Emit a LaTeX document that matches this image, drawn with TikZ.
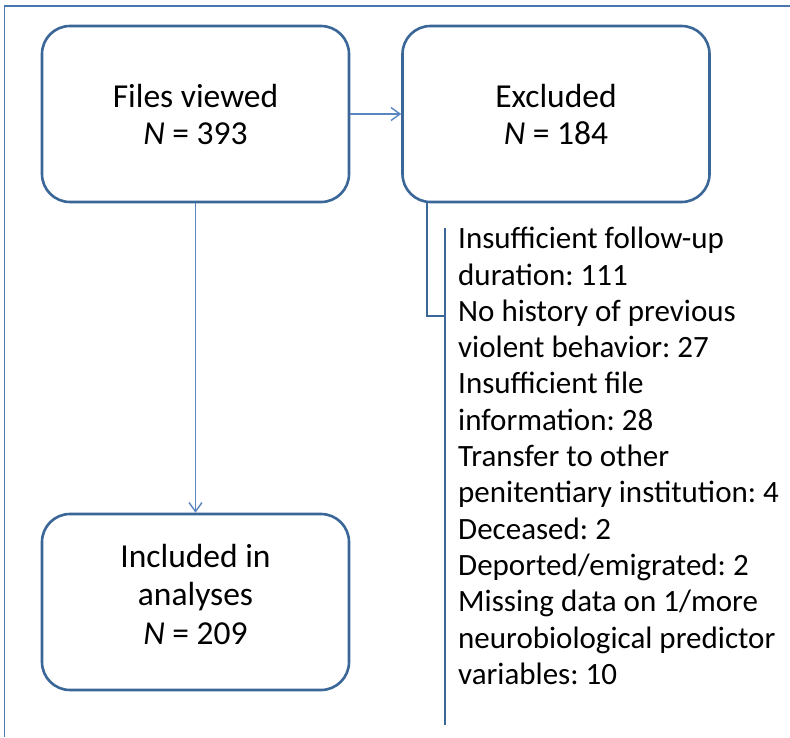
\documentclass[tikz,border=0pt]{standalone}
\usepackage{fontspec}
\setmainfont{Carlito}
\usetikzlibrary{arrows.meta}
\definecolor{boxblue}{HTML}{3A6698}
\definecolor{arrowblue}{HTML}{5A86C0}
\definecolor{frameblue}{HTML}{4A78AE}
\frenchspacing
\begin{document}
\begin{tikzpicture}[x=1pt,y=-1pt,
  flowbox/.style={draw=boxblue, line width=2.6pt, rounded corners=28pt, fill=white,
     minimum width=307pt, minimum height=176pt, align=center, inner sep=0pt,
     font=\fontsize{33.5}{37}\selectfont},
  flowarrow/.style={draw=arrowblue, line width=1.4pt, -{Straight Barb[length=9pt,width=13pt,line width=1.4pt]}},
  bracket/.style={draw=boxblue, line width=2.4pt},
  listtext/.style={align=left, inner sep=0pt, anchor=north west,
     font=\fontsize{31}{36.3}\selectfont}]
\useasboundingbox (0,0) rectangle (790,737);
\fill[white] (0,0) rectangle (790,737);
% outer frame (top and left edges visible)
\draw[frameblue, line width=1.6pt] (790,6) -- (4.5,6) -- (4.5,737);
% boxes
\node[flowbox] (files) at (195.5,114) {Files viewed\\\textit{N} = 393};
\node[flowbox] (excl) at (556,114) {Excluded\\\textit{N} = 184};
\node[flowbox] (incl) at (195.5,602) {};
\node[align=center, inner sep=0pt, font=\fontsize{33.5}{38.5}\selectfont] (incltext) at (195.5,594) {Included in\\analyses\\\textit{N} = 209};
% arrows
\draw[flowarrow] (files.east) -- (excl.west);
\draw[flowarrow] (files.south) -- (incl.north);
% bracket
\coordinate (bt) at (445,228);
\coordinate (bb) at (445,725);
\coordinate (bj) at (445,316);
\coordinate (bx) at (427,316);
\draw[bracket] (bt) -- (bb);
\draw[bracket] (excl.south -| bx) -- (bx) -- (bj);
\node[listtext] (reasons) at (458,227) {Insufficient follow-up\\duration: 111\\No history of previous\\violent behavior: 27\\Insufficient file\\information: 28\\Transfer to other\\penitentiary institution: 4\\Deceased: 2\\Deported/emigrated: 2\\Missing data on 1/more\\neurobiological predictor\\variables: 10};
\end{tikzpicture}
\end{document}
